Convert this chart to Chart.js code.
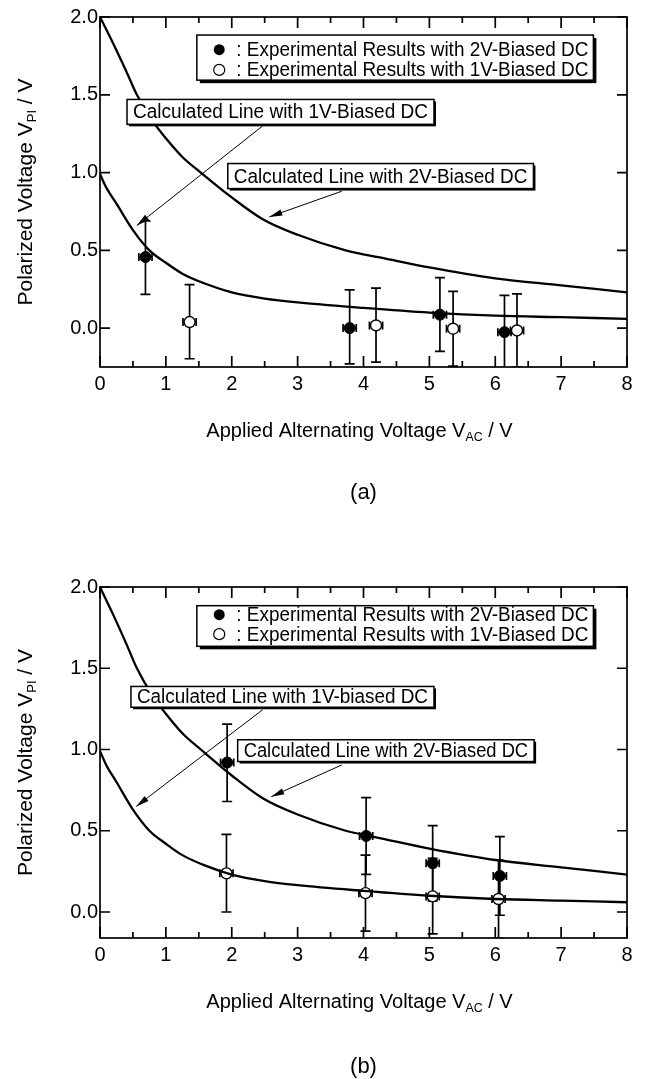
<!DOCTYPE html>
<html>
<head>
<meta charset="utf-8">
<script src="https://cdn.jsdelivr.net/npm/chart.js@4.4.1/dist/chart.umd.min.js"></script>
<style>
    html, body { margin: 0; padding: 0; background: #fff; }
    #wrap { position: relative; width: 645px; height: 1079px; }
    canvas { position: absolute; left: 0; }
</style>
</head>
<body>
<div id="wrap">
    <canvas id="chartA" width="645" height="540" style="top:0px"></canvas>
    <canvas id="chartB" width="645" height="539" style="top:540px"></canvas>
</div>
<script>
// calculated lines (same in both panels)
const line2VX = [0, 0.2, 0.4, 0.56, 0.8, 1.0, 1.25, 1.53, 2.0, 2.47, 3.0, 3.73, 4.3, 5.0, 6.0, 7.0, 8.0];
const line2VY = [2.0, 1.83, 1.65, 1.5, 1.33, 1.22, 1.1, 1.0, 0.84, 0.7, 0.6, 0.5, 0.45, 0.39, 0.32, 0.275, 0.23];
const line1VX = [0, 0.1, 0.25, 0.5, 0.75, 1.0, 1.25, 1.6, 2.0, 2.5, 3.0, 4.0, 5.0, 6.0, 7.0, 8.0];
const line1VY = [0.99, 0.9, 0.8, 0.63, 0.5, 0.42, 0.35, 0.285, 0.23, 0.19, 0.165, 0.13, 0.1, 0.08, 0.07, 0.06];

// panel (a) experimental results
const a2vX = [0.69, 3.79, 5.16, 6.14];
const a2vY = [0.457, 0.0, 0.086, -0.026];
const a2vLo = [0.217, -0.23, -0.15, -0.3];
const a2vHi = [0.69, 0.246, 0.324, 0.21];
const a1vX = [1.36, 4.19, 5.36, 6.33];
const a1vY = [0.039, 0.017, -0.004, -0.015];
const a1vLo = [-0.197, -0.219, -0.245, -0.25];
const a1vHi = [0.279, 0.257, 0.236, 0.22];

// panel (b) experimental results
const b2vX = [1.93, 4.04, 5.05, 6.07];
const b2vY = [0.92, 0.468, 0.30, 0.222];
const b2vLo = [0.68, 0.232, 0.068, -0.02];
const b2vHi = [1.156, 0.704, 0.532, 0.464];
const b1vX = [1.92, 4.03, 5.05, 6.05];
const b1vY = [0.238, 0.116, 0.096, 0.08];
const b1vLo = [0.0, -0.118, -0.135, -0.16];
const b1vHi = [0.478, 0.35, 0.33, 0.32];

const xErr = 0.1;

const xTickValues = [0, 1, 2, 3, 4, 5, 6, 7, 8];
const yTickValues = [0, 0.5, 1.0, 1.5, 2.0];

const legendTexts = [': Experimental Results with 2V-Biased DC', ': Experimental Results with 1V-Biased DC'];

const FONT = '"Liberation Sans", Arial, Helvetica, sans-serif';

function pts(xs, ys) {
    return xs.map((x, i) => ({ x: x, y: ys[i] }));
}

// text with one subscripted piece, centred on cx
function drawSubText(ctx, parts, cx, cy, size) {
    let total = 0;
    parts.forEach(p => {
        ctx.font = (p.sub ? size * 0.62 : size) + 'px ' + FONT;
        p.w = ctx.measureText(p.t).width;
        total += p.w;
    });
    let x = cx - total / 2;
    parts.forEach(p => {
        ctx.font = (p.sub ? size * 0.62 : size) + 'px ' + FONT;
        ctx.fillText(p.t, x, p.sub ? cy + size * 0.32 : cy);
        x += p.w;
    });
}

function boxWithShadow(ctx, l, t, r, b, sh) {
    ctx.fillStyle = '#000';
    ctx.fillRect(l + sh, t + sh, r - l, b - t);
    ctx.fillStyle = '#fff';
    ctx.fillRect(l, t, r - l, b - t);
    ctx.strokeStyle = '#000';
    ctx.lineWidth = 1.5;
    ctx.strokeRect(l, t, r - l, b - t);
}

function arrow(ctx, x1, y1, x2, y2) {
    ctx.strokeStyle = '#000';
    ctx.lineWidth = 1;
    ctx.beginPath();
    ctx.moveTo(x1, y1);
    ctx.lineTo(x2, y2);
    ctx.stroke();
    const a = Math.atan2(y2 - y1, x2 - x1);
    const len = 13, wid = 3.2;
    ctx.fillStyle = '#000';
    ctx.beginPath();
    ctx.moveTo(x2, y2);
    ctx.lineTo(x2 - len * Math.cos(a) + wid * Math.sin(a), y2 - len * Math.sin(a) - wid * Math.cos(a));
    ctx.lineTo(x2 - len * Math.cos(a) - wid * Math.sin(a), y2 - len * Math.sin(a) + wid * Math.cos(a));
    ctx.closePath();
    ctx.fill();
}

const figPlugin = {
    id: 'fig',
    beforeDatasetsDraw(chart) {
        const ctx = chart.ctx, xs = chart.scales.x, ys = chart.scales.y, ca = chart.chartArea;
        const o = chart.options.plugins.fig;
        ctx.save();
        ctx.beginPath();
        ctx.rect(ca.left, ca.top, ca.right - ca.left, ca.bottom - ca.top);
        ctx.clip();
        ctx.strokeStyle = '#000';
        ctx.lineWidth = 1.7;
        o.errors.forEach(e => {
            e.x.forEach((xv, i) => {
                const px = xs.getPixelForValue(xv);
                const py = ys.getPixelForValue(e.y[i]);
                const lo = ys.getPixelForValue(e.lo[i]);
                const hi = ys.getPixelForValue(e.hi[i]);
                const xl = xs.getPixelForValue(xv - xErr), xr = xs.getPixelForValue(xv + xErr);
                ctx.beginPath();
                ctx.moveTo(px, lo); ctx.lineTo(px, hi);
                ctx.moveTo(px - 5, lo); ctx.lineTo(px + 5, lo);
                ctx.moveTo(px - 5, hi); ctx.lineTo(px + 5, hi);
                ctx.moveTo(xl, py); ctx.lineTo(xr, py);
                ctx.moveTo(xl, py - 4); ctx.lineTo(xl, py + 4);
                ctx.moveTo(xr, py - 4); ctx.lineTo(xr, py + 4);
                ctx.stroke();
            });
        });
        ctx.restore();
    },
    afterDraw(chart) {
        const ctx = chart.ctx, xs = chart.scales.x, ys = chart.scales.y, ca = chart.chartArea;
        const o = chart.options.plugins.fig;
        const X = v => xs.getPixelForValue(v), Y = v => ys.getPixelForValue(v);
        ctx.save();
        // frame
        ctx.strokeStyle = '#000';
        ctx.lineWidth = 1.7;
        ctx.strokeRect(ca.left, ca.top, ca.right - ca.left, ca.bottom - ca.top);
        // inward ticks on all four sides
        ctx.beginPath();
        for (let v = 0; v <= 8; v += 0.5) {
            const len = Number.isInteger(v) ? 11 : 6;
            ctx.moveTo(X(v), ca.bottom); ctx.lineTo(X(v), ca.bottom - len);
            ctx.moveTo(X(v), ca.top); ctx.lineTo(X(v), ca.top + len);
        }
        yTickValues.forEach(v => {
            ctx.moveTo(ca.left, Y(v)); ctx.lineTo(ca.left + 10, Y(v));
            ctx.moveTo(ca.right, Y(v)); ctx.lineTo(ca.right - 10, Y(v));
        });
        ctx.stroke();

        // axis titles
        ctx.fillStyle = '#000';
        ctx.textBaseline = 'middle';
        ctx.textAlign = 'left';
        drawSubText(ctx, [{ t: 'Applied Alternating Voltage V' }, { t: 'AC', sub: true }, { t: ' / V' }],
            (ca.left + ca.right) / 2 - 4, o.xTitleY, 20);
        ctx.save();
        ctx.translate(26, (ca.top + ca.bottom) / 2);
        ctx.rotate(-Math.PI / 2);
        drawSubText(ctx, [{ t: 'Polarized Voltage V' }, { t: 'PI', sub: true }, { t: ' / V' }], 0, 0, 21);
        ctx.restore();

        // panel label
        ctx.textAlign = 'center';
        ctx.font = '22px ' + FONT;
        ctx.fillText(o.panel, (ca.left + ca.right) / 2, o.panelY);

        // legend
        const L = o.legend;
        boxWithShadow(ctx, X(L.x0), Y(L.y0), X(L.x1), Y(L.y1), 3);
        ctx.textAlign = 'left';
        ctx.font = '20px ' + FONT;
        ctx.fillStyle = '#000';
        legendTexts.forEach((t, i) => {
            const yy = Y(L.rows[i]);
            ctx.beginPath();
            ctx.arc(X(L.mx), yy, 5.5, 0, Math.PI * 2);
            if (i === 0) { ctx.fillStyle = '#000'; ctx.fill(); }
            else { ctx.fillStyle = '#fff'; ctx.fill(); ctx.lineWidth = 1.2; ctx.strokeStyle = '#000'; ctx.stroke(); }
            ctx.fillStyle = '#000';
            ctx.fillText(t, X(L.tx), yy + 1, X(L.x1) - X(L.tx) - 5);
        });

        // calculated-line labels with arrows
        o.labels.forEach(lb => {
            arrow(ctx, X(lb.ax0), Y(lb.ay0), X(lb.ax1), Y(lb.ay1));
            boxWithShadow(ctx, X(lb.x0), Y(lb.y0), X(lb.x1), Y(lb.y1), 2);
            ctx.fillStyle = '#000';
            ctx.textAlign = 'center';
            ctx.font = '20px ' + FONT;
            ctx.fillText(lb.text, (X(lb.x0) + X(lb.x1)) / 2, (Y(lb.y0) + Y(lb.y1)) / 2 + 1, X(lb.x1) - X(lb.x0) - 12);
        });
        ctx.restore();
    }
};

function makeChart(id, cfg) {
    const canvas = document.getElementById(id);
    const H = canvas.height;
    return new Chart(canvas.getContext('2d'), {
        type: 'scatter',
        data: {
            datasets: [
                { type: 'line', data: pts(line2VX, line2VY), borderColor: '#000', borderWidth: 2.3, pointRadius: 0, cubicInterpolationMode: 'monotone', fill: false },
                { type: 'line', data: pts(line1VX, line1VY), borderColor: '#000', borderWidth: 2.3, pointRadius: 0, cubicInterpolationMode: 'monotone', fill: false },
                { data: pts(cfg.fillX, cfg.fillY), pointRadius: 5.5, backgroundColor: '#000', borderColor: '#000', borderWidth: 1 },
                { data: pts(cfg.openX, cfg.openY), pointRadius: 5.5, backgroundColor: '#fff', borderColor: '#000', borderWidth: 1.4 }
            ]
        },
        options: {
            responsive: false,
            animation: false,
            devicePixelRatio: 1,
            layout: { padding: { left: 0, right: 18, top: cfg.top, bottom: 0 } },
            plugins: {
                legend: { display: false },
                tooltip: { enabled: false },
                fig: cfg.fig
            },
            scales: {
                x: {
                    type: 'linear', min: 0, max: 8,
                    afterBuildTicks: s => { s.ticks = xTickValues.map(v => ({ value: v })); },
                    afterFit: s => { s.height = H - cfg.bottom; },
                    ticks: { color: '#000', padding: 5, font: { family: FONT, size: 20 }, callback: v => String(v) },
                    grid: { display: false, drawTicks: false },
                    border: { display: false }
                },
                y: {
                    type: 'linear', min: cfg.ymin, max: 2.0,
                    afterBuildTicks: s => { s.ticks = yTickValues.map(v => ({ value: v })); },
                    afterFit: s => { s.width = 100; },
                    ticks: { color: '#000', padding: 2, font: { family: FONT, size: 20 }, callback: v => v.toFixed(1) },
                    grid: { display: false, drawTicks: false },
                    border: { display: false }
                }
            }
        },
        plugins: [figPlugin]
    });
}

makeChart('chartA', {
    top: 17, bottom: 367, ymin: -0.25,
    fillX: a2vX, fillY: a2vY, openX: a1vX, openY: a1vY,
    fig: {
        panel: '(a)', panelY: 493, xTitleY: 431,
        errors: [
            { x: a2vX, y: a2vY, lo: a2vLo, hi: a2vHi },
            { x: a1vX, y: a1vY, lo: a1vLo, hi: a1vHi }
        ],
        legend: { x0: 1.47, x1: 7.49, y0: 1.884, y1: 1.594, rows: [1.79, 1.66], mx: 1.81, tx: 2.07 },
        labels: [
            { text: 'Calculated Line with 1V-Biased DC', x0: 0.41, x1: 5.07, y0: 1.47, y1: 1.31, ax0: 2.47, ay0: 1.30, ax1: 0.56, ay1: 0.66 },
            { text: 'Calculated Line with 2V-Biased DC', x0: 1.94, x1: 6.58, y0: 1.058, y1: 0.897, ax0: 3.67, ay0: 0.88, ax1: 2.57, ay1: 0.715 }
        ]
    }
});

makeChart('chartB', {
    top: 47, bottom: 398, ymin: -0.16,
    fillX: b2vX, fillY: b2vY, openX: b1vX, openY: b1vY,
    fig: {
        panel: '(b)', panelY: 527, xTitleY: 462,
        errors: [
            { x: b2vX, y: b2vY, lo: b2vLo, hi: b2vHi },
            { x: b1vX, y: b1vY, lo: b1vLo, hi: b1vHi }
        ],
        legend: { x0: 1.47, x1: 7.49, y0: 1.885, y1: 1.635, rows: [1.83, 1.71], mx: 1.81, tx: 2.07 },
        labels: [
            { text: 'Calculated Line with 1V-biased DC', x0: 0.47, x1: 5.07, y0: 1.388, y1: 1.26, ax0: 2.47, ay0: 1.245, ax1: 0.55, ay1: 0.65 },
            { text: 'Calculated Line with 2V-Biased DC', x0: 2.09, x1: 6.59, y0: 1.06, y1: 0.926, ax0: 3.67, ay0: 0.905, ax1: 2.6, ay1: 0.71 }
        ]
    }
});
</script>
</body>
</html>
